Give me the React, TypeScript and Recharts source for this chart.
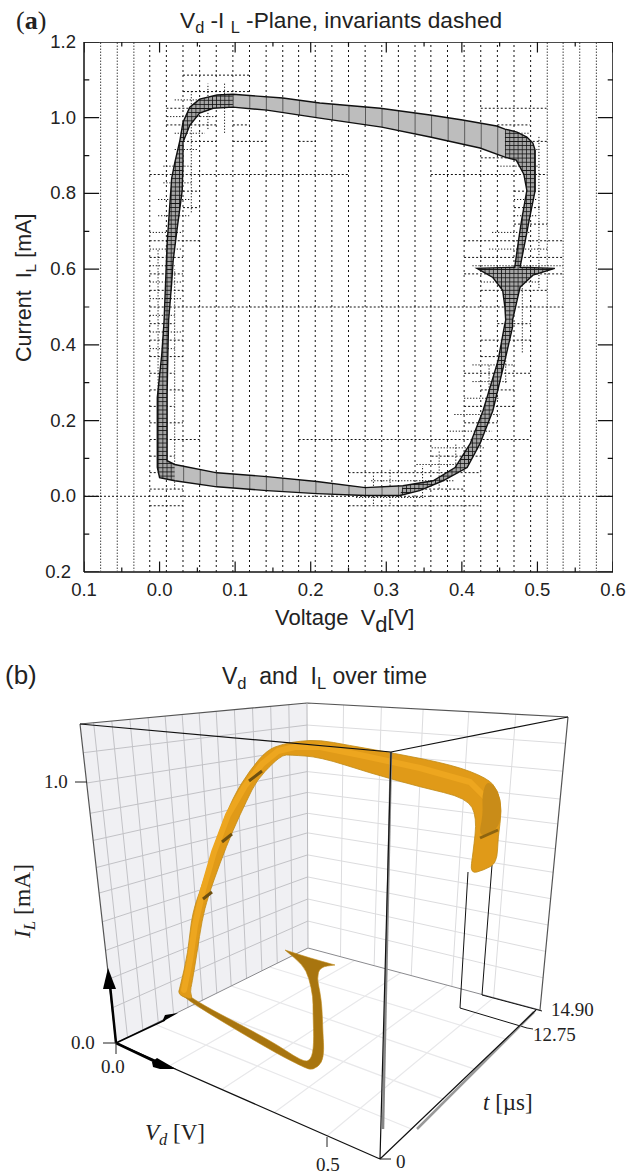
import { Scatter, ScatterChart, XAxis, YAxis } from "recharts";
import type { CSSProperties, ReactNode } from "react";

const SANS = '"Liberation Sans", Arial, sans-serif';
const SERIF = '"Liberation Serif", "Times New Roman", serif';

type Pt = [number, number];
type Run = [number, number, number];

/* ---------- panel (a): values are [Vd in V, IL in mA] ---------- */
const voltTicks = [-0.1, 0, 0.1, 0.2, 0.3, 0.4, 0.5, 0.6];
const currentTicks = [-0.2, 0, 0.2, 0.4, 0.6, 0.8, 1.0, 1.2];
const voltMinor = [-0.05, 0.05, 0.15, 0.25, 0.35, 0.45, 0.55];
const currentMinor = [-0.1, 0.1, 0.3, 0.5, 0.7, 0.9, 1.1];

const gridVoltsFaint = [-0.078, -0.056, -0.034, 0.513, 0.534, 0.556, 0.578];
const gridVolts = [
  -0.013, 0.009, 0.031, 0.053, 0.075, 0.097, 0.119, 0.141, 0.163, 0.184, 0.206, 0.228, 0.25, 0.272,
  0.294, 0.316, 0.338, 0.359, 0.381, 0.403, 0.425, 0.447, 0.469, 0.491,
];

// horizontal box edges: [current, from volt, to volt]
const boxRuns: Run[] = [
  [1.1125, 0.031, 0.119], [1.069, 0.031, 0.119], [1.025, 0.009, 0.053], [0.981, 0.009, 0.075],
  [0.981, 0.097, 0.119], [0.9375, 0.031, 0.075], [0.9375, 0.097, 0.141], [0.9375, 0.184, 0.207],
  [0.85, -0.013, 0.25], [0.85, 0.359, 0.513], [0.806, 0.031, 0.053], [0.7625, 0.031, 0.053],
  [0.675, -0.013, 0.053], [0.631, -0.013, 0.031], [0.5875, -0.013, 0.031], [0.544, -0.013, 0.031],
  [0.5, -0.013, 0.534], [1.025, 0.425, 0.512], [0.981, 0.447, 0.49], [0.9375, 0.425, 0.513],
  [0.894, 0.425, 0.491], [0.806, 0.469, 0.503], [0.7625, 0.469, 0.503], [0.719, 0.469, 0.513],
  [0.675, 0.403, 0.534], [0.631, 0.403, 0.534], [0.5875, 0.403, 0.534], [0.544, 0.425, 0.513],
  [0.456, 0.447, 0.491], [0.4125, 0.425, 0.491], [0.369, 0.425, 0.447], [0.325, 0.403, 0.491],
  [0.281, 0.425, 0.469], [0.2375, 0.403, 0.469], [0.194, 0.403, 0.447], [0.15, 0.184, 0.491],
  [0.106, 0.36, 0.425], [0.0625, 0.25, 0.425], [0.019, 0.272, 0.403], [-0.025, 0.25, 0.425],
  [0.456, -0.013, 0.02], [0.4125, -0.013, 0.031], [0.369, -0.013, 0.031], [0.325, -0.013, 0.02],
  [0.281, -0.013, 0.031], [0.2375, -0.013, 0.02], [0.194, -0.013, 0.031], [0.15, -0.013, 0.053],
  [0.106, -0.013, 0.02], [0.0625, -0.013, 0.031], [0.019, -0.013, 0.031], [-0.025, -0.013, 0.031],
  [0, -0.1, 0.6],
];

// finer boxes hugging the curve
const fineRuns: Run[] = [
  [1.047, 0.02, 0.1], [1.003, 0.01, 0.075], [0.959, 0.02, 0.06], [0.916, 0.02, 0.05],
  [0.872, 0.005, 0.042], [0.828, 0.005, 0.042], [0.784, -0.002, 0.04], [0.741, -0.002, 0.04],
  [0.697, -0.013, 0.031], [0.653, -0.013, 0.03], [0.609, -0.013, 0.02], [0.566, -0.013, 0.03],
  [0.522, -0.013, 0.03], [0.478, -0.013, 0.02], [0.434, -0.013, 0.03], [0.39, -0.013, 0.02],
  [0.566, 0.425, 0.503], [0.609, 0.414, 0.534], [0.653, 0.436, 0.513], [0.697, 0.44, 0.49],
  [0.741, 0.469, 0.5], [0.784, 0.469, 0.5], [0.872, 0.447, 0.503], [0.916, 0.447, 0.5],
  [0.959, 0.447, 0.49], [0.347, 0.414, 0.47], [0.303, 0.414, 0.46], [0.259, 0.403, 0.45],
  [0.216, 0.39, 0.45], [0.172, 0.38, 0.44], [0.128, 0.36, 0.43], [0.084, 0.34, 0.41],
  [0.041, 0.28, 0.39], [-0.003, 0.26, 0.35],
];
// [volt, from current, to current]
const fineCols: Run[] = [
  [-0.002, 0.1, 0.65], [0.02, 0.02, 0.6], [0.042, 0.75, 1.07], [0.064, 0.97, 1.09], [0.086, 0.96, 1.09],
  [0.436, 0.2, 0.35], [0.458, 0.3, 0.47], [0.48, 0.38, 0.59], [0.502, 0.55, 0.95], [0.392, 0.07, 0.14],
  [0.37, 0.02, 0.12], [0.348, 0, 0.08], [0.305, -0.02, 0.07], [0.283, -0.02, 0.06],
];

// band edges, outer contour then inner contour, same direction round the loop
const outerHatchRight: Pt[] = [
  [0.318, 0.002], [0.344, 0.015], [0.375, 0.041], [0.407, 0.076], [0.424, 0.139], [0.441, 0.226],
  [0.457, 0.359], [0.467, 0.446], [0.467, 0.465], [0.473, 0.517], [0.477, 0.552], [0.494, 0.584],
  [0.523, 0.602], [0.477, 0.605], [0.484, 0.676], [0.489, 0.729], [0.497, 0.808], [0.497, 0.914],
  [0.494, 0.933], [0.486, 0.949], [0.473, 0.962], [0.457, 0.97],
];
const outerTop: Pt[] = [
  [0.446, 0.978], [0.401, 0.994], [0.358, 1.007], [0.292, 1.025], [0.212, 1.039], [0.163, 1.052], [0.097, 1.062],
];
const outerHatchLeft: Pt[] = [
  [0.076, 1.06], [0.053, 1.049], [0.04, 1.028], [0.031, 0.988], [0.027, 0.941], [0.02, 0.88], [0.016, 0.84],
  [0.01, 0.668], [0.006, 0.465], [0.003, 0.377], [-0.003, 0.261], [-0.003, 0.076], [0, 0.049], [0.02, 0.041],
];
const outerBottom: Pt[] = [[0.076, 0.025], [0.142, 0.015], [0.208, 0.007], [0.272, 0.002]];

const innerHatchRight: Pt[] = [
  [0.322, 0.028], [0.362, 0.041], [0.391, 0.076], [0.411, 0.139], [0.428, 0.226], [0.448, 0.359],
  [0.456, 0.446], [0.458, 0.465], [0.457, 0.499], [0.454, 0.544], [0.441, 0.578], [0.42, 0.602],
  [0.47, 0.605], [0.475, 0.676], [0.479, 0.729], [0.486, 0.808], [0.482, 0.851], [0.472, 0.888], [0.457, 0.896],
];
const innerTop: Pt[] = [[0.424, 0.92], [0.358, 0.949], [0.294, 0.975], [0.212, 0.999], [0.142, 1.02], [0.097, 1.028]];
const innerHatchLeft: Pt[] = [
  [0.071, 1.025], [0.053, 1.012], [0.04, 0.98], [0.031, 0.935], [0.031, 0.88], [0.03, 0.808], [0.023, 0.703],
  [0.018, 0.623], [0.016, 0.562], [0.012, 0.465], [0.011, 0.377], [0.01, 0.271], [0.01, 0.094], [0.02, 0.084],
];
const innerBottom: Pt[] = [[0.076, 0.062], [0.142, 0.052], [0.208, 0.039], [0.272, 0.023]];

const wallLeft: Pt[] = [[80, 724], [307, 703], [308, 948], [116, 1043]];
const wallRight: Pt[] = [[307, 703], [568, 717], [540, 1010], [308, 948]];
const floorPlane: Pt[] = [[116, 1043], [308, 948], [540, 1010], [380, 1159]];

const leftWallCols = [0.06, 0.14, 0.22, 0.3, 0.375, 0.45, 0.525, 0.6, 0.68, 0.76, 0.84, 0.92];
const wallRows = [0.09, 0.185, 0.28, 0.365, 0.45, 0.53, 0.62, 0.71, 0.8, 0.89];
const rightWallCols = [0.14, 0.285, 0.445, 0.62, 0.8];
const floorCols = [0.2, 0.4, 0.6, 0.8];

const tubeOuter: Pt[] = [
  [470, 874], [484, 870], [497, 863], [498, 837], [502, 810], [498, 790], [487, 778], [453, 765], [393, 753], [347, 745],
  [320, 740], [300, 741], [283, 744], [267, 750], [250, 770], [233, 797], [217, 837], [203, 883], [192, 913],
  [188, 953], [180, 987], [178, 995],
];
const tubeInner: Pt[] = [
  [193, 1000], [190, 992], [192, 983], [197, 953], [202, 920], [208, 897], [220, 863], [233, 830], [247, 800],
  [257, 780], [273, 763], [283, 755], [290, 755], [320, 757], [370, 773], [420, 787], [467, 798], [477, 817],
  [473, 853],
];
const tubeHighlight: Pt[] = [
  [488, 800], [470, 782], [420, 768], [360, 755], [320, 747], [295, 747], [278, 751], [262, 764],
  [245, 786], [228, 815], [214, 852], [203, 890], [195, 925], [190, 960], [184, 990],
];
const tubeEndShade: Pt[] = [
  [502, 810], [498, 790], [487, 780], [482, 795], [483, 815], [478, 838], [498, 830],
];
const tubeNotches: Pt[][] = [
  [[249, 781], [262, 771]],
  [[222, 842], [232, 834]],
  [[203, 899], [212, 892]],
];
// tips repeated so the rounding in smoothShape keeps them sharp
const tailShape: Pt[] = [
  [285, 950], [285, 950], [285, 950], [310, 958], [335, 965], [335, 965], [335, 965], [320, 967], [317, 978], [320, 992],
  [322, 1007], [323, 1035], [324, 1050], [322, 1063], [313, 1070], [305, 1068], [270, 1050], [178, 995], [180, 987],
  [193, 1000], [270, 1040], [303, 1062], [311, 1060], [314, 1045], [313, 1012], [313, 997], [309, 978], [303, 965],
];
const dropLines: Pt[][] = [
  [[468, 872], [460, 1008], [527, 1028]],
  [[492, 865], [482, 995], [542, 1011]],
];
const arrowHeads: Pt[][] = [
  [[108, 968], [116, 989], [103, 989]],
  [[152, 1062], [157, 1058], [176, 1069], [160, 1069], [153, 1067]],
  [[162, 1022], [178, 1013], [165, 1015]],
];

const boxEdges: { pts: Pt[][]; stroke: string; width: number }[] = [
  { pts: [[[80, 724], [307, 703]], [[307, 703], [568, 717]], [[568, 717], [540, 1010]], [[80, 724], [116, 1043]]], stroke: "#555", width: 1.2 },
  { pts: [[[116, 1043], [308, 948]], [[308, 948], [540, 1010]]], stroke: "#8a8a8e", width: 1 },
  { pts: [[[307, 703], [308, 948]]], stroke: "#b8b8bc", width: 1 },
];
const frontEdges: { pts: Pt[][]; stroke: string; width: number }[] = [
  { pts: [[[391, 752], [383, 1129]]], stroke: "#888", width: 2.5 },
  { pts: [[[417, 1129], [534, 1012]]], stroke: "#999", width: 2.5 },
  { pts: [[[80, 724], [391, 752]], [[391, 752], [568, 717]], [[391, 752], [380, 1159]], [[380, 1159], [536, 1010]], [[116, 1043], [380, 1159]]], stroke: "#111", width: 1.2 },
  { pts: [[[116, 1043], [110, 985]], [[116, 1043], [156, 1062]]], stroke: "#000", width: 2.5 },
  { pts: [[[116, 1043], [165, 1020]]], stroke: "#000", width: 1.6 },
  { pts: [[[103, 1043], [116, 1043]], [[116, 1043], [116, 1054]], [[75, 782], [87, 782]], [[380, 1159], [391, 1159]], [[327, 1137], [327, 1147]], [[527, 1028], [533, 1029]]], stroke: "#222", width: 1 },
];

const NoPoint = () => <g />;

// runs of separate line pieces through one Scatter, so paint order follows child order
function linePieces(key: string, pieces: Pt[][], style: Record<string, unknown>) {
  const data = pieces.flatMap((piece, pieceIndex) => piece.map(([x, y]) => ({ x, y, piece: pieceIndex })));
  const draw = (p: any) => {
    let d = "";
    let last = -1;
    p.points.forEach((pt: { x: number; y: number }, i: number) => {
      d += `${data[i].piece === last ? "L" : "M"}${pt.x} ${pt.y}`;
      last = data[i].piece;
    });
    return <path d={d} fill="none" {...style} />;
  };
  return <Scatter key={key} data={data} line={draw} shape={NoPoint} legendType="none" isAnimationActive={false} />;
}

function filledShape(key: string, contours: Pt[][], style: Record<string, unknown>, defs?: ReactNode) {
  const data = contours.flatMap((c, contour) => c.map(([x, y]) => ({ x, y, contour })));
  const draw = (p: any) => {
    let d = "";
    let last = -1;
    p.points.forEach((pt: { x: number; y: number }, i: number) => {
      const contour = data[i].contour;
      if (contour !== last && last !== -1) d += "Z";
      d += `${contour === last ? "L" : "M"}${pt.x} ${pt.y}`;
      last = contour;
    });
    return (
      <g>
        {defs && <defs>{defs}</defs>}
        <path d={d + "Z"} fillRule="evenodd" {...style} />
      </g>
    );
  };
  return <Scatter key={key} data={data} line={draw} shape={NoPoint} legendType="none" isAnimationActive={false} />;
}

// same as filledShape but rounded through the edge midpoints, for the tube
function smoothShape(key: string, outline: Pt[], style: Record<string, unknown>) {
  const data = outline.map(([x, y]) => ({ x, y }));
  const draw = (p: any) => {
    const pts: { x: number; y: number }[] = p.points;
    const mid = (a: { x: number; y: number }, b: { x: number; y: number }) => `${(a.x + b.x) / 2} ${(a.y + b.y) / 2}`;
    let d = `M${mid(pts[pts.length - 1], pts[0])}`;
    pts.forEach((pt, i) => {
      d += `Q${pt.x} ${pt.y} ${mid(pt, pts[(i + 1) % pts.length])}`;
    });
    return <path d={d + "Z"} {...style} />;
  };
  return <Scatter key={key} data={data} line={draw} shape={NoPoint} legendType="none" isAnimationActive={false} />;
}

const columns = (volts: number[], lo = -0.2, hi = 1.2): Pt[][] => volts.map((v) => [[v, lo], [v, hi]]);

function lerp(a: Pt, b: Pt, t: number): Pt {
  return [a[0] + (b[0] - a[0]) * t, a[1] + (b[1] - a[1]) * t];
}
// grid lines of a four-cornered wall: columns run along first edge, rows down the sides
function wallGrid([tl, tr, br, bl]: Pt[], cols: number[], rows: number[]): Pt[][] {
  return [
    ...cols.map((t): Pt[] => [lerp(tl, tr, t), lerp(bl, br, t)]),
    ...rows.map((t): Pt[] => [lerp(tl, bl, t), lerp(tr, br, t)]),
  ];
}

function CurrentTick({ x, y, payload }: any) {
  const last = payload.value === -0.2;
  return (
    <text x={x + (last ? -5 : 0)} y={y + 6} textAnchor="end" fontFamily={SANS} fontSize={18.5} fill="#222">
      {Math.abs(payload.value).toFixed(1)}
    </text>
  );
}

function Text({ x, y, style, children }: { x: number; y: number; style?: CSSProperties; children: ReactNode }) {
  return (
    <div style={{ position: "absolute", left: x, top: y, lineHeight: 1, whiteSpace: "pre", color: "#222", fontFamily: SANS, ...style }}>
      {children}
    </div>
  );
}

const Sub = ({ children, size = "0.72em" }: { children: ReactNode; size?: string }) => (
  <span style={{ fontSize: size, position: "relative", top: "0.3em" }}>{children}</span>
);

const fineHatch = (
  <pattern id="fineHatch" patternUnits="userSpaceOnUse" width={4.13} height={4.13} patternTransform="translate(84 42)">
    <rect width={4.13} height={4.13} fill="#a4a4a4" />
    <path d="M0 0V4.13M0 0H4.13" stroke="#111" strokeWidth={1.5} fill="none" />
  </pattern>
);
const coarseHatch = (
  <pattern id="coarseHatch" patternUnits="userSpaceOnUse" width={16.53} height={50} patternTransform="translate(84 42)">
    <rect width={16.53} height={50} fill="#bdbdbd" />
    <path d="M0 0V50" stroke="#1a1a1a" strokeWidth={1.2} fill="none" />
  </pattern>
);

function PanelA() {
  const outerAll = [...outerHatchRight, ...outerTop, ...outerHatchLeft, ...outerBottom];
  const innerAll = [...innerHatchRight, ...innerTop, ...innerHatchLeft, ...innerBottom];
  const hatchLeft = [outerTop[outerTop.length - 1], ...outerHatchLeft, ...[...innerHatchLeft].reverse(), innerTop[innerTop.length - 1]];
  const hatchRight = [...outerHatchRight, ...[...innerHatchRight].reverse()];
  const axisLine = { stroke: "#111", strokeWidth: 1.5 };
  const majorV: Pt[][] = voltTicks.flatMap((v): Pt[][] => [[[v, -0.2], [v, -0.172]], [[v, 1.2], [v, 1.172]]]);
  const minorV: Pt[][] = voltMinor.flatMap((v): Pt[][] => [[[v, -0.2], [v, -0.188]], [[v, 1.2], [v, 1.188]]]);
  const majorI: Pt[][] = currentTicks.flatMap((c): Pt[][] => [[[-0.1, c], [-0.08, c]], [[0.6, c], [0.58, c]]]);
  const minorI: Pt[][] = currentMinor.flatMap((c): Pt[][] => [[[-0.1, c], [-0.093, c]], [[0.6, c], [0.593, c]]]);

  return (
    <div style={{ position: "absolute", left: 0, top: 0 }}>
      <ScatterChart width={627} height={650} margin={{ top: 42, right: 14, bottom: 38, left: 30 }}>
        <XAxis
          type="number"
          dataKey="x"
          domain={[-0.1, 0.6]}
          ticks={voltTicks}
          interval={0}
          height={40}
          tickLine={false}
          tickSize={0}
          tickMargin={11}
          axisLine={axisLine}
          tick={{ fill: "#222", fontSize: 18.5, fontFamily: SANS }}
          tickFormatter={(v: number) => Math.abs(v).toFixed(1)}
          allowDataOverflow
        />
        <YAxis
          type="number"
          dataKey="y"
          domain={[-0.2, 1.2]}
          ticks={currentTicks}
          interval={0}
          width={54}
          tickLine={false}
          axisLine={axisLine}
          tick={<CurrentTick />}
          allowDataOverflow
        />
        {linePieces("gridFaint", columns(gridVoltsFaint), { stroke: "#444", strokeWidth: 1, strokeDasharray: "1.5 1.5" })}
        {linePieces("grid", columns(gridVolts), { stroke: "#111", strokeWidth: 1, strokeDasharray: "2 3" })}
        {linePieces("boxes", boxRuns.map(([c, a, b]): Pt[] => [[a, c], [b, c]]), { stroke: "#111", strokeWidth: 1, strokeDasharray: "2 2" })}
        {linePieces("fine", fineRuns.map(([c, a, b]): Pt[] => [[a, c], [b, c]]), { stroke: "#111", strokeWidth: 1, strokeDasharray: "1.2 1.8" })}
        {linePieces("fineCols", fineCols.map(([v, a, b]): Pt[] => [[v, a], [v, b]]), { stroke: "#111", strokeWidth: 1, strokeDasharray: "1.2 1.8" })}
        {filledShape("band", [outerAll, innerAll], { fill: "url(#coarseHatch)", stroke: "none" }, coarseHatch)}
        {filledShape("hatchRight", [hatchRight], { fill: "url(#fineHatch)", stroke: "none" }, fineHatch)}
        {filledShape("hatchLeft", [hatchLeft], { fill: "url(#fineHatch)", stroke: "none" })}
        {filledShape("bandEdge", [outerAll, innerAll], { fill: "none", stroke: "#111", strokeWidth: 1.4 })}
        {linePieces("frame", [[[-0.1, 1.2], [0.6, 1.2]], [[0.6, 1.2], [0.6, -0.2]]], { stroke: "#111", strokeWidth: 1.5 })}
        {linePieces("majorTicks", [...majorV, ...majorI], { stroke: "#111", strokeWidth: 1.2 })}
        {linePieces("minorTicks", [...minorV, ...minorI], { stroke: "#111", strokeWidth: 1.2 })}
      </ScatterChart>
    </div>
  );
}

function PanelB() {
  return (
    <div style={{ position: "absolute", left: 0, top: 640 }}>
      <ScatterChart width={627} height={534} margin={{ top: 0, right: 0, bottom: 0, left: 0 }}>
        <XAxis type="number" dataKey="x" domain={[0, 627]} hide allowDataOverflow />
        <YAxis type="number" dataKey="y" domain={[640, 1174]} reversed hide allowDataOverflow />
        {filledShape("wallLeft", [wallLeft], { fill: "#f0f0f3", stroke: "none" })}
        {linePieces("wallLeftGrid", wallGrid(wallLeft, leftWallCols, wallRows), { stroke: "#c2c2c6", strokeWidth: 1 })}
        {linePieces("wallRightGrid", wallGrid(wallRight, rightWallCols, wallRows), { stroke: "#dcdcde", strokeWidth: 1 })}
        {linePieces("floorGrid", wallGrid(floorPlane, floorCols, floorCols), { stroke: "#e8e8ea", strokeWidth: 1.2 })}
        {boxEdges.map((e, i) => linePieces(`edge${i}`, e.pts, { stroke: e.stroke, strokeWidth: e.width }))}
        {linePieces("drops", dropLines, { stroke: "#111", strokeWidth: 1 })}
        {smoothShape("tail", tailShape, { fill: "#a8750f", stroke: "#c08a1a", strokeWidth: 0.6 })}
        {smoothShape("tube", [...tubeOuter, ...tubeInner], { fill: "#e09a18", stroke: "#c08a16", strokeWidth: 0.8 })}
        {linePieces("tubeLight", [tubeHighlight], { stroke: "#eda61f", strokeWidth: 6, strokeLinejoin: "round", strokeLinecap: "round" })}
        {smoothShape("tubeEnd", tubeEndShade, { fill: "#c98c18", stroke: "none" })}
        {linePieces("tubeBand", [[[480, 838], [498, 830]]], { stroke: "#8d6410", strokeWidth: 3 })}
        {linePieces("notches", tubeNotches, { stroke: "#6e5010", strokeWidth: 3 })}
        {frontEdges.map((e, i) => linePieces(`front${i}`, e.pts, { stroke: e.stroke, strokeWidth: e.width }))}
        {arrowHeads.map((h, i) => filledShape(`arrow${i}`, [h], { fill: "#000", stroke: "none" }))}
      </ScatterChart>
    </div>
  );
}

export default function App() {
  const serifTick: CSSProperties = { fontFamily: SERIF, fontSize: 19, color: "#222" };
  return (
    <div style={{ position: "absolute", left: 0, top: 0, width: 627, height: 1174, background: "#fff", overflow: "hidden" }}>
      <PanelA />
      <PanelB />

      <Text x={16} y={8} style={{ fontFamily: SERIF, fontSize: 26 }}>
        (<b>a</b>)
      </Text>
      <Text x={180} y={9} style={{ fontSize: 22.7 }}>
        V<Sub>d</Sub> -I <Sub>L</Sub> -Plane, invariants dashed
      </Text>
      <Text x={275} y={607} style={{ fontSize: 22 }}>
        Voltage  V<Sub size="1em">d</Sub>[V]
      </Text>
      <div style={{ position: "absolute", left: 14, top: 362, transformOrigin: "0 0", transform: "rotate(-90deg)", whiteSpace: "pre", lineHeight: 1, fontFamily: SANS, fontSize: 21.5, color: "#222" }}>
        Current  I<Sub>L</Sub> [mA]
      </div>

      <Text x={5} y={662} style={{ fontSize: 26 }}>(b)</Text>
      <Text x={222} y={665} style={{ fontSize: 23 }}>
        V<Sub>d</Sub>  and  I<Sub>L</Sub> over time
      </Text>

      <Text x={44} y={772} style={serifTick}>1.0</Text>
      <Text x={71} y={1033} style={serifTick}>0.0</Text>
      <Text x={101} y={1057} style={serifTick}>0.0</Text>
      <Text x={316} y={1155} style={serifTick}>0.5</Text>
      <Text x={396} y={1152} style={serifTick}>0</Text>
      <Text x={551} y={1000} style={serifTick}>14.90</Text>
      <Text x={533} y={1025} style={serifTick}>12.75</Text>
      <Text x={483} y={1091} style={{ fontFamily: SERIF, fontSize: 23 }}>
        <i>t</i> [µs]
      </Text>
      <Text x={145} y={1121} style={{ fontFamily: SERIF, fontSize: 23 }}>
        <i>V</i>
        <Sub><i>d</i></Sub> [V]
      </Text>
      <div style={{ position: "absolute", left: 11, top: 938, transformOrigin: "0 0", transform: "rotate(-90deg)", whiteSpace: "pre", lineHeight: 1, fontFamily: SERIF, fontSize: 23.5, color: "#222" }}>
        <i>I</i>
        <Sub><i>L</i></Sub> [mA]
      </div>
    </div>
  );
}
